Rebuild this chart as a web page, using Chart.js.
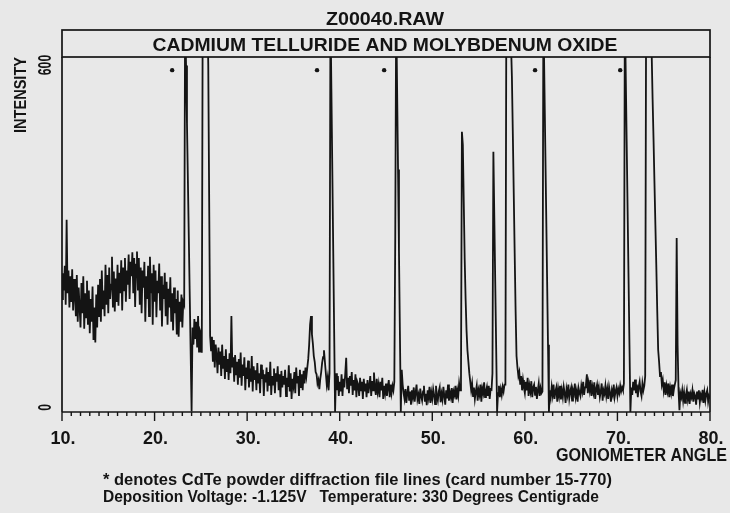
<!DOCTYPE html>
<html><head><meta charset="utf-8">
<script src="https://cdn.jsdelivr.net/npm/chart.js@4.4.1/dist/chart.umd.min.js"></script>
<style>html,body{margin:0;padding:0;background:#e8e8e8;}canvas{display:block;}</style>
</head><body>
<canvas id="c" width="730" height="513"></canvas>
<script>
const chartTitle = "Z00040.RAW";
const sampleTitle = "CADMIUM TELLURIDE AND MOLYBDENUM OXIDE";
const xAxisTitle = "GONIOMETER ANGLE";
const yAxisTitle = "INTENSITY";
const footnotes = [
  "* denotes CdTe powder diffraction file lines (card number 15-770)",
  "Deposition Voltage: -1.125V   Temperature: 330 Degrees Centigrade"
];

// scan: 10.0 to 80.0 degrees, 0.1 degree step (one row per degree)
const scanStart = 10.0;
const scanStep = 0.1;
const intensity = [
 190,235,205,248,180,329,200,240,175,230,
 185,242,170,225,196,160,232,150,210,175,
 140,218,165,230,138,200,158,222,145,205,
 130,190,150,212,118,175,114,198,140,215,
 160,225,150,240,172,205,160,250,180,232,
 165,245,190,215,264,175,238,168,226,185,
 250,178,236,200,258,170,245,205,262,185,
 240,215,268,190,255,230,272,200,262,176,
 250,273,205,262,180,245,165,240,210,255,
 150,230,190,248,160,264,200,235,145,250,
 185,240,158,222,200,252,170,230,142,215,
 190,236,160,220,145,208,175,228,150,200,
 135,210,165,190,128,205,124,185,150,198,
 140,185,180,700,599,498,397,296,195,94,
 -7,140,110,155,120,150,105,160,98,135,
 130,96,700,700,700,700,700,700,600,360,
 125,100,124,80,118,70,110,92,60,105,
 75,98,55,110,68,90,50,102,62,85,
 48,95,60,160,70,88,45,92,58,80,
 40,85,52,96,38,75,55,88,30,70,
 50,82,35,68,45,90,28,72,48,65,
 30,78,42,60,25,75,50,66,20,58,
 44,70,28,62,38,80,22,55,40,68,
 25,60,45,72,30,58,18,64,35,55,
 40,66,20,52,36,74,28,60,15,50,
 38,62,25,70,42,55,20,66,34,58,
 30,64,42,70,55,70,85,110,145,160,
 128,112,90,80,62,58,42,48,32,50,
 62,78,88,100,80,60,40,52,30,60,
 700,558,417,275,133,-8,60,30,55,20,
 45,28,58,20,50,35,60,87,32,52,
 25,55,38,62,22,48,30,58,18,45,
 40,20,52,30,45,15,50,28,42,18,
 48,25,38,55,20,46,30,61,35,22,
 50,28,40,18,45,30,52,15,38,25,
 42,20,35,48,18,40,25,38,30,45,
 300,700,558,417,275,133,-8,66,40,25,
 15,32,8,25,38,12,28,5,30,18,
 35,10,26,40,14,22,6,33,20,12,
 28,38,10,24,4,30,18,36,8,26,
 15,32,22,6,38,20,12,28,35,9,
 24,14,36,20,5,30,16,40,12,26,
 18,34,8,28,22,38,14,30,20,42,
 30,50,483,460,360,260,190,135,100,80,
 60,45,30,42,20,35,15,28,38,12,
 30,22,40,10,33,25,44,18,28,36,
 20,38,15,32,31,60,448,334,220,106,
 -8,25,38,18,32,22,36,28,40,40,
 700,700,700,700,700,700,580,480,375,270,
 170,90,70,55,62,40,55,30,48,35,
 25,45,30,52,20,38,28,46,18,35,
 40,22,36,15,30,42,20,34,25,28,
 700,582,464,346,228,110,-8,30,18,36,
 22,40,15,28,35,10,32,20,38,14,
 30,18,36,25,8,32,22,40,16,28,
 35,12,30,24,42,18,28,10,34,26,
 20,38,28,45,22,35,40,58,25,42,
 30,48,20,36,26,44,15,32,40,22,
 34,18,28,42,12,30,24,38,20,32,
 15,36,26,10,30,22,40,18,28,35,
 20,32,25,38,28,35,30,42,700,582,
 464,346,228,110,-8,35,22,45,30,49,
 25,40,18,36,45,28,20,42,30,38,
 55,700,700,700,700,700,700,620,540,470,
 394,320,248,170,101,80,55,62,40,48,
 30,44,22,38,28,42,18,35,25,40,
 20,32,40,48,297,110,30,-5,25,18,
 30,12,26,8,22,31,15,28,6,24,
 18,30,10,25,20,5,28,14,30,9,
 22,16,31,8,26,12,24,30,10,20,
 15
];
const angles = intensity.map((_, i) => Math.round((scanStart + i * scanStep) * 10) / 10);

// CdTe card-line markers (asterisks)
const cdteMarkAngles = [21.9, 37.55, 44.8, 61.1, 70.3];
const cdteMarkLevels = [591, 591, 591, 591, 591];

const xTickValues = [10, 20, 30, 40, 50, 60, 70, 80];
const xTickLabels = ["10.", "20.", "30.", "40.", "50.", "60.", "70.", "80."];
const xMinorStep = 1;
const yTickValues = [0, 600];
const yTickLabels = ["0", "600"];
const xRange = [10, 80];
const yRange = [-8, 614];

const INK = "#141414";
const BG = "#e8e8e8";
const FAM = '"Liberation Sans Narrow","Liberation Sans",Arial,sans-serif';

function fitText(ctx, text, x, y, targetW, size, align, rot) {
  ctx.save();
  ctx.font = "bold " + size + "px " + FAM;
  const w = ctx.measureText(text).width;
  const s = targetW / w;
  ctx.translate(x, y);
  if (rot) ctx.rotate(rot);
  ctx.scale(s, 1);
  ctx.textAlign = align;
  ctx.fillStyle = INK;
  ctx.fillText(text, 0, 0);
  ctx.restore();
}

const decor = {
  id: "decor",
  beforeDraw(chart) {
    const c = chart.ctx;
    c.save(); c.fillStyle = BG; c.fillRect(0, 0, chart.width, chart.height); c.restore();
  },
  afterDraw(chart) {
    const c = chart.ctx, a = chart.chartArea, xs = chart.scales.x, ys = chart.scales.y;
    c.save();
    c.strokeStyle = INK; c.lineWidth = 1.7;
    // title box
    c.strokeRect(a.left, 30, a.right - a.left, a.top - 30);
    // plot frame: left, right, bottom axis
    c.beginPath();
    c.moveTo(a.left, a.top); c.lineTo(a.left, a.bottom);
    c.moveTo(a.right, a.top); c.lineTo(a.right, a.bottom);
    c.moveTo(a.left, a.bottom); c.lineTo(a.right, a.bottom);
    c.stroke();
    // ticks
    c.lineWidth = 1.4;
    c.beginPath();
    for (let v = xRange[0]; v <= xRange[1] + 1e-9; v += xMinorStep) {
      const px = xs.getPixelForValue(v);
      const major = xTickValues.includes(Math.round(v));
      c.moveTo(px, a.bottom); c.lineTo(px, a.bottom + (major ? 9 : 4));
    }
    c.stroke();
    c.restore();
    // titles
    fitText(c, chartTitle, 385, 25, 118, 18, "center");
    fitText(c, sampleTitle, 385, 51, 465, 19, "center");
    // x tick labels
    xTickValues.forEach((v, i) => {
      fitText(c, xTickLabels[i], xs.getPixelForValue(v) + 1, 444, 25, 19, "center");
    });
    fitText(c, xAxisTitle, 727, 461, 171, 18, "right");
    // y labels (rotated)
    yTickValues.forEach((v, i) => {
      const w = yTickLabels[i].length * 6.8;
      fitText(c, yTickLabels[i], 51, ys.getPixelForValue(v), w, 18, "center", -Math.PI / 2);
    });
    fitText(c, yAxisTitle, 26, 95, 76, 17, "center", -Math.PI / 2);
    // footnotes
    fitText(c, footnotes[0], 103, 485, 509, 16, "left");
    fitText(c, footnotes[1], 103, 502, 496, 16, "left");
  }
};

new Chart(document.getElementById("c").getContext("2d"), {
  type: "line",
  data: {
    datasets: [
      {
        data: angles.map((a, i) => ({ x: a, y: intensity[i] })),
        borderColor: INK, borderWidth: 1.8, pointRadius: 0, tension: 0, fill: false
      },
      {
        type: "scatter",
        data: cdteMarkAngles.map((a, i) => ({ x: a, y: cdteMarkLevels[i] })),
        pointRadius: 2.2, pointBackgroundColor: INK, pointBorderWidth: 0, showLine: false
      }
    ]
  },
  options: {
    responsive: false, animation: false, devicePixelRatio: 1,
    layout: { padding: { left: 62, right: 20, top: 57, bottom: 101 } },
    scales: {
      x: { type: "linear", min: xRange[0], max: xRange[1], display: false },
      y: { type: "linear", min: yRange[0], max: yRange[1], display: false }
    },
    plugins: { legend: { display: false }, tooltip: { enabled: false }, title: { display: false } }
  },
  plugins: [decor]
});
</script>
</body></html>
